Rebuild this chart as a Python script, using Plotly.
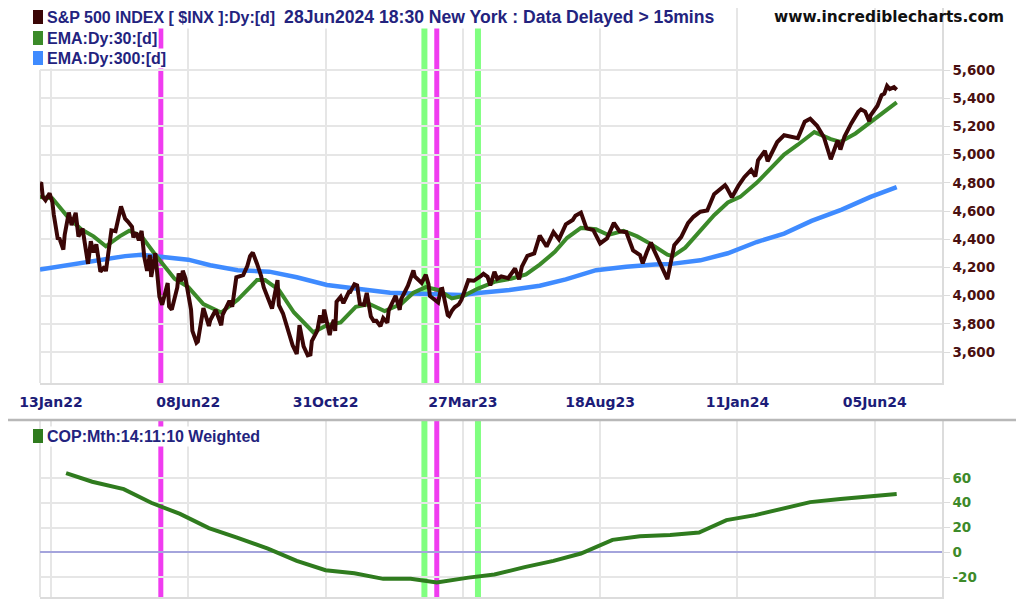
import plotly.graph_objects as go

# S&P 500 closes (dates of trading days)
price_dates = [
    "2022-01-03", "2022-01-04", "2022-01-05", "2022-01-07", "2022-01-12", "2022-01-14", "2022-01-18",
    "2022-01-21", "2022-01-24", "2022-01-27", "2022-01-28", "2022-02-02", "2022-02-04", "2022-02-09",
    "2022-02-11", "2022-02-16", "2022-02-18", "2022-02-23", "2022-02-25", "2022-03-01", "2022-03-03",
    "2022-03-08", "2022-03-11", "2022-03-14", "2022-03-18", "2022-03-23", "2022-03-29", "2022-04-01",
    "2022-04-05", "2022-04-08", "2022-04-11", "2022-04-13", "2022-04-18", "2022-04-20", "2022-04-22",
    "2022-04-26", "2022-04-28", "2022-04-29", "2022-05-04", "2022-05-06", "2022-05-09", "2022-05-11",
    "2022-05-13", "2022-05-17", "2022-05-18", "2022-05-20", "2022-05-26", "2022-05-27", "2022-06-01",
    "2022-06-02", "2022-06-06", "2022-06-10", "2022-06-13", "2022-06-16", "2022-06-17", "2022-06-24",
    "2022-06-30", "2022-07-01", "2022-07-08", "2022-07-14", "2022-07-15", "2022-07-22", "2022-07-26",
    "2022-07-29", "2022-08-05", "2022-08-10", "2022-08-12", "2022-08-16", "2022-08-19", "2022-08-24",
    "2022-08-26", "2022-09-01", "2022-09-06", "2022-09-12", "2022-09-13", "2022-09-16", "2022-09-23",
    "2022-09-27", "2022-09-30", "2022-10-04", "2022-10-07", "2022-10-12", "2022-10-14", "2022-10-17",
    "2022-10-21", "2022-10-25", "2022-10-27", "2022-10-28", "2022-11-03", "2022-11-04", "2022-11-08",
    "2022-11-09", "2022-11-10", "2022-11-15", "2022-11-17", "2022-11-23", "2022-11-25", "2022-11-30",
    "2022-12-02", "2022-12-06", "2022-12-09", "2022-12-13", "2022-12-16", "2022-12-20", "2022-12-22",
    "2022-12-28", "2022-12-30", "2023-01-05", "2023-01-06", "2023-01-13", "2023-01-19", "2023-01-20",
    "2023-01-27", "2023-02-02", "2023-02-03", "2023-02-10", "2023-02-15", "2023-02-17", "2023-02-21",
    "2023-02-24", "2023-03-01", "2023-03-03", "2023-03-06", "2023-03-10", "2023-03-13", "2023-03-15",
    "2023-03-17", "2023-03-22", "2023-03-24", "2023-03-31", "2023-04-06", "2023-04-14", "2023-04-18",
    "2023-04-21", "2023-04-25", "2023-04-28", "2023-05-02", "2023-05-05", "2023-05-12", "2023-05-19",
    "2023-05-24", "2023-05-26", "2023-06-02", "2023-06-09", "2023-06-15", "2023-06-16", "2023-06-23",
    "2023-06-30", "2023-07-06", "2023-07-07", "2023-07-14", "2023-07-21", "2023-07-25", "2023-07-28",
    "2023-07-31", "2023-08-04", "2023-08-11", "2023-08-18", "2023-08-25", "2023-09-01", "2023-09-08",
    "2023-09-15", "2023-09-22", "2023-09-29", "2023-10-03", "2023-10-06", "2023-10-11", "2023-10-13",
    "2023-10-20", "2023-10-27", "2023-11-03", "2023-11-10", "2023-11-17", "2023-11-24", "2023-12-01",
    "2023-12-08", "2023-12-15", "2023-12-22", "2023-12-28", "2023-12-29", "2024-01-05", "2024-01-12",
    "2024-01-19", "2024-01-26", "2024-01-31", "2024-02-02", "2024-02-09", "2024-02-13", "2024-02-16",
    "2024-02-23", "2024-03-01", "2024-03-08", "2024-03-15", "2024-03-22", "2024-03-28", "2024-04-05",
    "2024-04-12", "2024-04-19", "2024-04-26", "2024-04-30", "2024-05-03", "2024-05-10", "2024-05-17",
    "2024-05-21", "2024-05-24", "2024-05-30", "2024-05-31", "2024-06-07", "2024-06-12", "2024-06-14",
    "2024-06-18", "2024-06-21", "2024-06-26", "2024-06-28",
]
price_values = [
    4797, 4794, 4701, 4677, 4726, 4663, 4577,
    4398, 4410, 4326, 4432, 4589, 4500, 4587,
    4419, 4475, 4349, 4225, 4385, 4306, 4363,
    4170, 4204, 4173, 4463, 4457, 4632, 4546,
    4525, 4488, 4413, 4447, 4392, 4459, 4272,
    4175, 4288, 4132, 4301, 4123, 3991, 3935,
    4024, 4089, 3923, 3901, 4058, 4158, 4101,
    4177, 4121, 3901, 3750, 3666, 3675, 3912,
    3785, 3825, 3899, 3790, 3863, 3962, 3921,
    4130, 4145, 4210, 4280, 4305, 4228, 4141,
    4058, 3967, 3908, 4110, 3932, 3873, 3693,
    3647, 3586, 3791, 3640, 3577, 3583, 3677,
    3752, 3859, 3807, 3901, 3720, 3771, 3828,
    3749, 3956, 3992, 3946, 4027, 4026, 4080,
    4072, 3941, 3934, 4019, 3852, 3821, 3822,
    3783, 3840, 3808, 3895, 3999, 3899, 3973,
    4071, 4179, 4136, 4090, 4148, 4079, 3997,
    3970, 3951, 4046, 4048, 3862, 3855, 3892,
    3917, 3937, 3971, 4109, 4105, 4138, 4154,
    4133, 4072, 4169, 4119, 4136, 4124, 4192,
    4115, 4205, 4282, 4299, 4426, 4410, 4348,
    4450, 4411, 4399, 4505, 4536, 4567, 4582,
    4589, 4478, 4464, 4370, 4406, 4516, 4457,
    4450, 4320, 4288, 4229, 4309, 4377, 4327,
    4224, 4117, 4358, 4415, 4514, 4559, 4595,
    4604, 4719, 4755, 4783, 4770, 4697, 4784,
    4840, 4891, 4846, 4959, 5027, 4953, 5006,
    5089, 5137, 5124, 5117, 5234, 5254, 5204,
    5123, 4967, 5100, 5036, 5128, 5223, 5303,
    5321, 5305, 5236, 5278, 5347, 5421, 5432,
    5487, 5465, 5478, 5460,
]

ema30_dates = [
    "2022-01-03", "2022-01-14", "2022-02-01", "2022-02-15", "2022-03-01", "2022-03-14", "2022-03-28",
    "2022-04-06", "2022-04-20", "2022-05-04", "2022-05-24", "2022-06-08", "2022-06-24", "2022-07-14",
    "2022-08-01", "2022-08-19", "2022-08-29", "2022-09-13", "2022-09-28", "2022-10-18", "2022-11-01",
    "2022-11-15", "2022-12-01", "2022-12-15", "2023-01-03", "2023-01-20", "2023-02-02", "2023-02-15",
    "2023-03-01", "2023-03-15", "2023-03-28", "2023-04-12", "2023-05-01", "2023-05-16", "2023-06-01",
    "2023-06-15", "2023-07-03", "2023-07-17", "2023-07-31", "2023-08-15", "2023-08-28", "2023-09-13",
    "2023-09-27", "2023-10-12", "2023-10-27", "2023-11-02", "2023-11-15", "2023-12-01", "2023-12-15",
    "2024-01-02", "2024-01-16", "2024-02-01", "2024-02-15", "2024-03-01", "2024-03-15", "2024-04-03",
    "2024-04-19", "2024-04-30", "2024-05-15", "2024-06-03", "2024-06-14", "2024-06-28",
]
ema30_values = [
    4700, 4690, 4560, 4470, 4420, 4350, 4420,
    4460, 4420, 4290, 4120, 4060, 3940, 3880,
    3970, 4110, 4110, 4040, 3880, 3740, 3790,
    3810, 3920, 3940, 3890, 3940, 4020, 4060,
    4040, 3980, 4000, 4050, 4100, 4120, 4150,
    4220, 4310, 4410, 4480, 4470, 4430, 4460,
    4420, 4360, 4290, 4280, 4340, 4460, 4570,
    4660, 4700, 4800, 4900, 5000, 5070, 5160,
    5110, 5090, 5150, 5240, 5300, 5370,
]

ema300_dates = [
    "2022-01-03", "2022-02-01", "2022-03-01", "2022-04-01", "2022-04-20", "2022-05-16", "2022-06-08",
    "2022-07-01", "2022-08-01", "2022-09-01", "2022-09-30", "2022-11-01", "2022-12-01", "2023-01-09",
    "2023-02-01", "2023-03-01", "2023-03-24", "2023-04-14", "2023-05-15", "2023-06-15", "2023-07-14",
    "2023-08-15", "2023-09-15", "2023-10-16", "2023-11-01", "2023-12-01", "2024-01-02", "2024-02-01",
    "2024-03-01", "2024-04-01", "2024-05-01", "2024-05-31", "2024-06-28",
]
ema300_values = [
    4185, 4215, 4250, 4280, 4290, 4275, 4255,
    4215, 4180, 4170, 4130, 4075, 4050, 4020,
    4015, 4010, 4005, 4020, 4040, 4070, 4115,
    4180, 4205, 4220, 4225, 4250, 4300, 4380,
    4440, 4530, 4610, 4700, 4770,
]

# monthly Coppock curve
cop_dates = [
    "2022-01-31", "2022-02-28", "2022-03-31", "2022-04-29", "2022-05-31", "2022-06-30", "2022-07-29",
    "2022-08-31", "2022-09-30", "2022-10-31", "2022-11-30", "2022-12-30", "2023-01-31", "2023-02-28",
    "2023-03-31", "2023-04-28", "2023-05-31", "2023-06-30", "2023-07-31", "2023-08-31", "2023-09-29",
    "2023-10-31", "2023-11-30", "2023-12-29", "2024-01-31", "2024-02-29", "2024-03-28", "2024-04-30",
    "2024-05-31", "2024-06-28",
]
cop_values = [
    64, 57, 51, 40, 31, 19.5, 12,
    3, -7, -14.5, -17, -21.5, -21.5, -24.5,
    -20.5, -18, -12, -7, -1, 10, 13,
    14, 16, 26, 30, 35, 40.5, 43,
    45, 47,
]

tick_dates = ["2022-01-13", "2022-06-08", "2022-10-31", "2023-03-27", "2023-08-18", "2024-01-11", "2024-06-05"]
tick_labels = ["13Jan22", "08Jun22", "31Oct22", "27Mar23", "18Aug23", "11Jan24", "05Jun24"]
price_ticks = [3600, 3800, 4000, 4200, 4400, 4600, 4800, 5000, 5200, 5400, 5600]
cop_ticks = [60, 40, 20, 0, -20]
cop_tick_labels = ["60", "40", "20", "0", "-20"]

magenta_signals = ["2022-05-10", "2023-02-28"]
green_signals = ["2023-02-14", "2023-04-12"]

holidays = [
    "2022-01-17", "2022-02-21", "2022-04-15", "2022-05-30", "2022-06-20", "2022-07-04", "2022-09-05",
    "2022-11-24", "2022-12-26", "2023-01-02", "2023-01-16", "2023-02-20", "2023-04-07", "2023-05-29",
    "2023-06-19", "2023-07-04", "2023-09-04", "2023-11-23", "2023-12-25", "2024-01-01", "2024-01-15",
    "2024-02-19", "2024-03-29", "2024-05-27", "2024-06-19", "2024-07-04",
]

# page geometry in pixels (the page body adds an 8px offset)
OFF = 8
PAGE_W, PAGE_H = 1024, 602
L, R, T, B = 40, 942, 8, 597
FIG_W, FIG_H = PAGE_W - OFF, PAGE_H - OFF


def px_x(px):
    return (px - L) / (R - L)


def px_y(py):
    return (B - py) / (B - T)


def price_at(py):
    # upper panel: 5,600 at y=70, 3,600 at y=352
    return 3600 + (352 - py) * 2000 / 282


def cop_at(py):
    # lower panel: 60 at y=478, -20 at y=577
    return 60 + (478 - py) * 80 / 99


up_range = [price_at(383), price_at(T)]
low_range = [cop_at(B), cop_at(420)]

GRID = "#e6e6e6"
NAVY = "#23237e"

fig = go.Figure()
fig.add_trace(go.Scatter(x=ema300_dates, y=ema300_values, mode="lines",
                         line=dict(color="#3f8bff", width=4.5), xaxis="x", yaxis="y"))
fig.add_trace(go.Scatter(x=ema30_dates, y=ema30_values, mode="lines",
                         line=dict(color="#3b8a29", width=4), xaxis="x", yaxis="y"))
fig.add_trace(go.Scatter(x=price_dates, y=price_values, mode="lines",
                         line=dict(color="#3a0606", width=4), xaxis="x", yaxis="y"))
fig.add_trace(go.Scatter(x=cop_dates, y=cop_values, mode="lines",
                         line=dict(color="#2f7b1e", width=4), xaxis="x2", yaxis="y2"))

shapes = []
for d, col, w in [(d, "#f03cf0", 5) for d in magenta_signals] + [(d, "#80ff80", 6) for d in green_signals]:
    shapes.append(dict(type="line", xref="x", yref="y", x0=d, x1=d, y0=up_range[0], y1=up_range[1],
                       line=dict(color=col, width=w), layer="below"))
    shapes.append(dict(type="line", xref="x2", yref="y2", x0=d, x1=d, y0=low_range[0], y1=low_range[1],
                       line=dict(color=col, width=w), layer="below"))

# frame lines
shapes.append(dict(type="line", xref="paper", yref="paper", x0=0, x1=0, y0=px_y(70), y1=px_y(383),
                   line=dict(color="#dcdcdc", width=1.5), layer="below"))
shapes.append(dict(type="line", xref="paper", yref="paper", x0=0, x1=0, y0=px_y(420), y1=0,
                   line=dict(color="#dcdcdc", width=1.5), layer="below"))
shapes.append(dict(type="line", xref="paper", yref="paper", x0=px_x(OFF), x1=px_x(PAGE_W),
                   y0=px_y(420), y1=px_y(420), line=dict(color="#b8b8b8", width=2.5), layer="above"))

# legend swatches
for cy, col in [(17, "#3a0606"), (38, "#3b8a29"), (58, "#3f8bff"), (436, "#2f7b1e")]:
    shapes.append(dict(type="rect", xref="paper", yref="paper", x0=px_x(33), x1=px_x(43),
                       y0=px_y(cy + 7), y1=px_y(cy - 7), fillcolor=col, line=dict(width=0), layer="above"))

legend_font = dict(family="Liberation Sans, Arial", size=16, color=NAVY, weight="bold")
annotations = []
for cy, txt in [
    (17, "S&amp;P 500 INDEX [ $INX ]:Dy:[d]\u00a0\u00a0<span style='font-size:17.6px'>28Jun2024 18:30 New York : "
         "Data Delayed &gt; 15mins</span>"),
    (38, "EMA:Dy:30:[d]"),
    (58, "EMA:Dy:300:[d]"),
    (436, "COP:Mth:14:11:10 Weighted"),
]:
    annotations.append(dict(xref="paper", yref="paper", x=px_x(45), y=px_y(cy), text=txt,
                            xanchor="left", yanchor="middle", showarrow=False, font=legend_font,
                            bgcolor="white", borderpad=1))
annotations.append(dict(xref="paper", yref="paper", x=px_x(1006), y=px_y(17), text="www.incrediblecharts.com",
                        xanchor="right", yanchor="middle", showarrow=False,
                        font=dict(family="DejaVu Sans", size=15.4, color="#111111", weight="bold")))

fig.update_layout(
    width=FIG_W, height=FIG_H,
    margin=dict(l=L - OFF, r=PAGE_W - R, t=T - OFF, b=PAGE_H - B, pad=0),
    paper_bgcolor="white", plot_bgcolor="rgba(0,0,0,0)",
    showlegend=False,
    shapes=shapes, annotations=annotations,
    xaxis=dict(
        domain=[0, 1], anchor="y", type="date",
        range=["2022-01-03", "2024-08-15"],
        rangebreaks=[dict(bounds=["sat", "mon"]), dict(values=holidays)],
        tickvals=tick_dates, ticktext=tick_labels,
        tickfont=dict(family="DejaVu Sans", size=14, color="#1c1c78", weight="bold"),
        ticklabelstandoff=5,
        showgrid=True, gridcolor=GRID, gridwidth=1.5,
        showline=True, linecolor="#dcdcdc", linewidth=1.5, zeroline=False,
    ),
    xaxis2=dict(
        domain=[0, 1], anchor="y2", type="date", matches="x",
        rangebreaks=[dict(bounds=["sat", "mon"]), dict(values=holidays)],
        tickvals=tick_dates, showticklabels=False,
        showgrid=True, gridcolor=GRID, gridwidth=1.5,
        showline=True, linecolor="#dcdcdc", linewidth=1.5, zeroline=False,
    ),
    yaxis=dict(
        domain=[px_y(383), 1], side="right", anchor="x",
        range=up_range, tickvals=price_ticks, tickformat=",",
        tickfont=dict(family="DejaVu Sans", size=13.5, color="#4a1010", weight="bold"),
        ticks="outside", ticklen=6, tickcolor="#dcdcdc",
        showgrid=True, gridcolor=GRID, gridwidth=1.5,
        showline=True, linecolor="#dcdcdc", linewidth=1.5, zeroline=False,
    ),
    yaxis2=dict(
        domain=[0, px_y(420)], side="right", anchor="x2",
        range=low_range, tickvals=cop_ticks, ticktext=cop_tick_labels,
        tickfont=dict(family="DejaVu Sans", size=13.5, color="#3d8a2a", weight="bold"),
        ticks="outside", ticklen=6, tickcolor="#dcdcdc",
        showgrid=True, gridcolor=GRID, gridwidth=1.5,
        showline=True, linecolor="#dcdcdc", linewidth=1.5,
        zeroline=True, zerolinecolor="#a4a4dc", zerolinewidth=1.5,
    ),
)

fig.write_html("out.html")
